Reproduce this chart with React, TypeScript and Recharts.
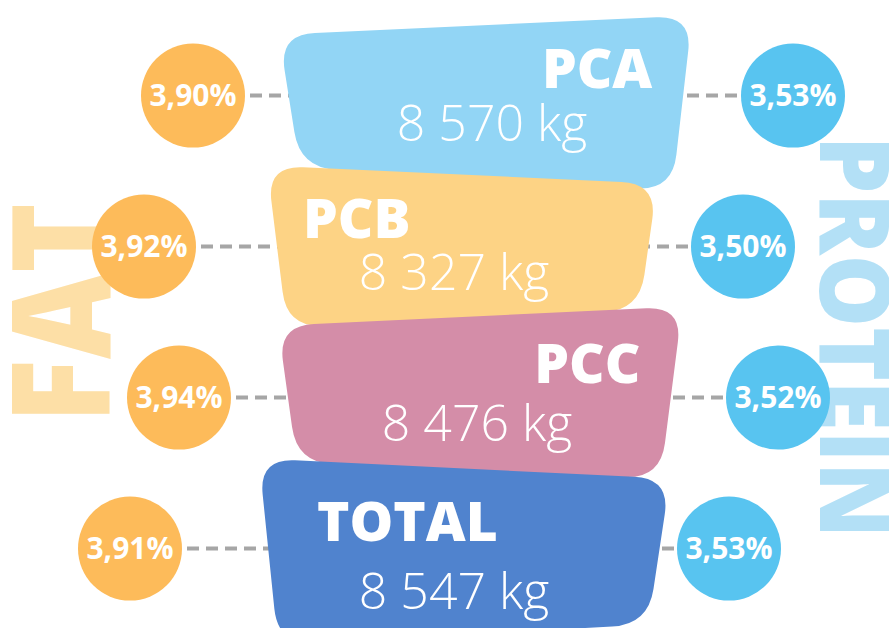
import { ComposedChart, Bar, XAxis, YAxis, Customized } from 'recharts';

const categories = ['PCA', 'PCB', 'PCC', 'TOTAL'];
const milkKg = [8570, 8327, 8476, 8547];
const fatPct = [3.9, 3.92, 3.94, 3.91];
const proteinPct = [3.53, 3.5, 3.52, 3.53];

const rows = categories.map((name, i) => ({
  name,
  kg: milkKg[i],
  fat: fatPct[i],
  protein: proteinPct[i],
}));

// layout / styling per row (not data)
const plateColors = ['#92D5F5', '#FDD385', '#D48DA8', '#5083CE'];
const plateLeft = [279, 267, 278, 259];
// corner offsets from the row centre: top-left, top-right, bottom-right, bottom-left
const plateDy = [
  [-61, -80, 95, 72],
  [-81, -63, 64, 81],
  [-72, -91, 81, 65],
  [-90, -70, 76, 96],
];
// how far the bottom corners sit inside the top ones: left, right
const plateInset = [
  [21, 20],
  [20, 18],
  [19, 22],
  [19, 22],
];
const nameAnchor = ['end', 'start', 'end', 'start'];
const nameDx = [-40, 36, -42, 58];
const nameDy = [-8, -9, -15, -8];
const kgDx = [213, 187, 199, 195];
const kgDy = [45, 43, 43, 60];
const fatCx = [193, 144, 179, 130];
const proteinCx = [793, 743, 778, 729];

const FAT_COLOR = '#FDBB5A';
const PROTEIN_COLOR = '#58C4F0';
const FONT = "'Open Sans', sans-serif";

const pct = (v: number) => `${v.toFixed(2).replace('.', ',')}%`;
const kgLabel = (v: number) =>
  `${Math.floor(v / 1000)} ${String(v % 1000).padStart(3, '0')} kg`;

type Pt = { x: number; y: number };

function toward(a: Pt, b: Pt, r: number): Pt {
  const dx = b.x - a.x;
  const dy = b.y - a.y;
  const len = Math.hypot(dx, dy);
  return { x: a.x + (dx / len) * r, y: a.y + (dy / len) * r };
}

function roundedPath(pts: Pt[], r: number) {
  let d = '';
  pts.forEach((p, i) => {
    const prev = pts[(i + pts.length - 1) % pts.length];
    const next = pts[(i + 1) % pts.length];
    const a = toward(p, prev, r);
    const b = toward(p, next, r);
    d += `${i === 0 ? 'M' : 'L'}${a.x},${a.y} Q${p.x},${p.y} ${b.x},${b.y} `;
  });
  return d + 'Z';
}

function Plate(props: any) {
  const { x, y, width, height, payload, index } = props;
  const cy = y + height / 2;
  const left = x + plateLeft[index];
  const right = left + width;
  const [tl, tr, br, bl] = plateDy[index];
  const [insL, insR] = plateInset[index];
  const pts = [
    { x: left, y: cy + tl },
    { x: right, y: cy + tr },
    { x: right - insR, y: cy + br },
    { x: left + insL, y: cy + bl },
  ];
  const fx = fatCx[index];
  const px = proteinCx[index];
  return (
    <g>
      <line
        x1={fx}
        x2={px}
        y1={cy}
        y2={cy}
        stroke="#A6A6A6"
        strokeWidth={4}
        strokeDasharray="12 7"
      />
      <path d={roundedPath(pts, 36)} fill={plateColors[index]} />
      <text
        x={nameAnchor[index] === 'end' ? right + nameDx[index] : left + nameDx[index]}
        y={cy + nameDy[index]}
        textAnchor={nameAnchor[index]}
        fontFamily={FONT}
        fontWeight={800}
        fontSize={55}
        fill="#fff"
      >
        {payload.name}
      </text>
      <text
        x={left + kgDx[index]}
        y={cy + kgDy[index]}
        textAnchor="middle"
        fontFamily={FONT}
        fontWeight={300}
        fontSize={50}
        fill="#fff"
      >
        {kgLabel(payload.kg)}
      </text>
      <circle cx={fx} cy={cy} r={52} fill={FAT_COLOR} />
      <text
        x={fx}
        y={cy + 10}
        textAnchor="middle"
        fontFamily={FONT}
        fontWeight={700}
        fontSize={30}
        fill="#fff"
      >
        {pct(payload.fat)}
      </text>
      <circle cx={px} cy={cy} r={52} fill={PROTEIN_COLOR} />
      <text
        x={px}
        y={cy + 10}
        textAnchor="middle"
        fontFamily={FONT}
        fontWeight={700}
        fontSize={30}
        fill="#fff"
      >
        {pct(payload.protein)}
      </text>
    </g>
  );
}

const BigWords = () => (
  <g fontFamily={FONT} fontWeight={800}>
    <text
      x={110}
      y={423}
      transform="rotate(-90 110 423)"
      fontSize={136}
      fill="#FDDFA6"
      textLength={220}
      lengthAdjust="spacingAndGlyphs"
    >
      FAT
    </text>
    <text
      x={820}
      y={136}
      transform="rotate(90 820 136)"
      fontSize={98}
      fill="#B3E0F6"
      textLength={402}
      lengthAdjust="spacingAndGlyphs"
    >
      PROTEIN
    </text>
  </g>
);

export default function App() {
  return (
    <div style={{ width: 889, height: 628, background: '#fff', overflow: 'hidden' }}>
      <style>{'body{margin:0}'}</style>
      <ComposedChart
        width={889}
        height={628}
        data={rows}
        layout="vertical"
        margin={{ top: 20, right: 0, bottom: 4, left: 0 }}
      >
        <XAxis type="number" hide domain={[4200, 13600]} />
        <YAxis type="category" dataKey="name" hide />
        <Customized component={BigWords} />
        <Bar dataKey="kg" shape={Plate} isAnimationActive={false} />
      </ComposedChart>
    </div>
  );
}
